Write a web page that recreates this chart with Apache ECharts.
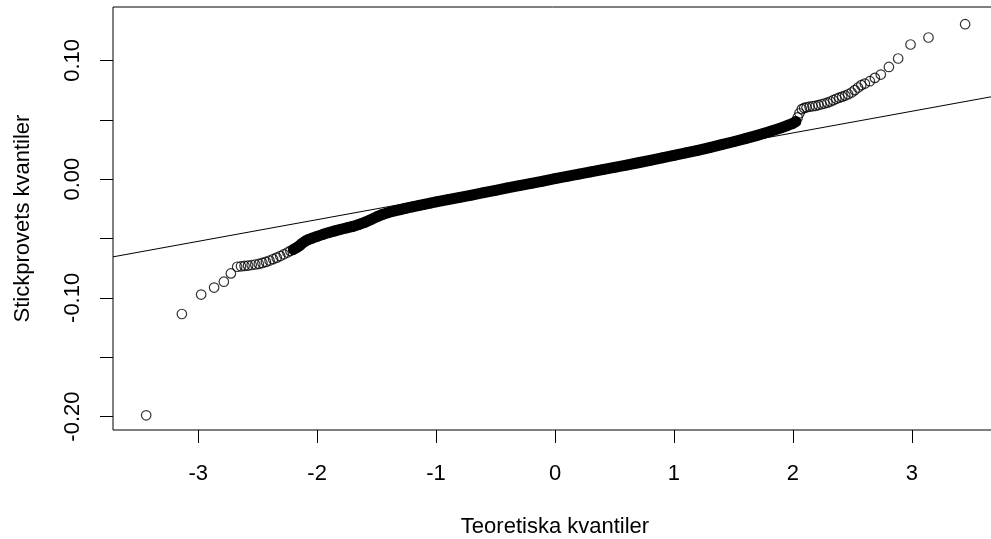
<!DOCTYPE html>
<html>
<head>
<meta charset="utf-8">
<script src="https://cdn.jsdelivr.net/npm/echarts@6/dist/echarts.min.js"></script>
<style>
  html, body { margin: 0; padding: 0; background: #fff; }
  #chart { width: 991px; height: 539px; }
</style>
</head>
<body>
<div id="chart"></div>
<script>
// Normal QQ plot: theoretical quantiles (x) against sample quantiles (y)
const theoretical = [
  -3.437, -3.137, -2.975, -2.866, -2.784, -2.725, -2.672, -2.640, -2.610, -2.580,
  -2.550, -2.520, -2.490, -2.460, -2.430, -2.400, -2.370, -2.340, -2.310, -2.280,
  -2.250, -2.225, -2.200, -2.175, -2.150, -2.125, -2.100, -2.075, -2.050, -2.000,
  -1.950, -1.900, -1.850, -1.800, -1.750, -1.700, -1.650, -1.600, -1.550, -1.500,
  -1.450, -1.400, -1.350, -1.300, -1.250, -1.200, -1.150, -1.100, -1.050, -1.000,
  -0.900, -0.800, -0.700, -0.600, -0.500, -0.400, -0.300, -0.200, -0.100, 0.000,
  0.100, 0.200, 0.300, 0.400, 0.500, 0.600, 0.700, 0.800, 0.900, 1.000,
  1.100, 1.200, 1.300, 1.400, 1.500, 1.600, 1.700, 1.800, 1.900, 1.950,
  2.000, 2.025, 2.040, 2.055, 2.075, 2.095, 2.115, 2.140, 2.165, 2.190,
  2.215, 2.240, 2.265, 2.290, 2.315, 2.340, 2.365, 2.390, 2.415, 2.440,
  2.465, 2.493, 2.520, 2.548, 2.575, 2.605, 2.647, 2.689, 2.739, 2.807,
  2.885, 2.989, 3.140, 3.448
];
const sample = [
  -0.1989, -0.1136, -0.0972, -0.0913, -0.0864, -0.0794, -0.0738, -0.0734, -0.0731, -0.0728,
  -0.0723, -0.0719, -0.0714, -0.0706, -0.0697, -0.0686, -0.0674, -0.0661, -0.0648, -0.0633,
  -0.0618, -0.0604, -0.0592, -0.0578, -0.0562, -0.0540, -0.0523, -0.0510, -0.0500, -0.0482,
  -0.0465, -0.0450, -0.0436, -0.0422, -0.0410, -0.0398, -0.0382, -0.0364, -0.0342, -0.0318,
  -0.0297, -0.0281, -0.0268, -0.0256, -0.0245, -0.0234, -0.0223, -0.0212, -0.0202, -0.0192,
  -0.0172, -0.0153, -0.0134, -0.0114, -0.0094, -0.0074, -0.0055, -0.0036, -0.0016, 0.0004,
  0.0023, 0.0042, 0.0061, 0.0080, 0.0099, 0.0118, 0.0138, 0.0158, 0.0179, 0.0200,
  0.0221, 0.0243, 0.0266, 0.0290, 0.0315, 0.0341, 0.0369, 0.0399, 0.0432, 0.0450,
  0.0470, 0.0485, 0.0520, 0.0555, 0.0590, 0.0600, 0.0605, 0.0610, 0.0614, 0.0618,
  0.0624, 0.0631, 0.0637, 0.0644, 0.0654, 0.0665, 0.0677, 0.0686, 0.0695, 0.0704,
  0.0715, 0.0730, 0.0750, 0.0772, 0.0792, 0.0805, 0.0825, 0.0853, 0.0881, 0.0945,
  0.1016, 0.1134, 0.1193, 0.1305
];

// Stretch of quantiles so closely packed that the circles merge into a solid band
const denseRange = [-2.2, 2.025];

// Reference line through the quartiles
const lineIntercept = 0.0024;
const lineSlope = 0.01826;

// Axis extents and ticks
const xRange = [-3.716, 3.716];
const yRange = [-0.2113, 0.145];
const xTicks = [-3, -2, -1, 0, 1, 2, 3];
const yTicks = [-0.2, -0.15, -0.1, -0.05, 0, 0.05, 0.1];
const yTickLabels = [-0.2, -0.1, 0, 0.1];

const points = theoretical.map((x, i) => [x, sample[i]]);
const densePoints = points.filter(p => p[0] >= denseRange[0] && p[0] <= denseRange[1]);
const refLine = xRange.map(x => [x, lineIntercept + lineSlope * x]);

const font = "'Liberation Sans', Arial, sans-serif";

const chart = echarts.init(document.getElementById('chart'), null, { renderer: 'canvas' });
chart.setOption({
  animation: false,
  backgroundColor: '#fff',
  grid: {
    left: 113, top: 7, width: 884, height: 423,
    outerBoundsMode: 'none',
    containLabel: false,
    show: true, borderColor: '#000', borderWidth: 1, backgroundColor: 'transparent'
  },
  xAxis: {
    type: 'value',
    min: xRange[0], max: xRange[1],
    name: 'Teoretiska kvantiler',
    nameLocation: 'middle',
    nameGap: 86,
    nameTextStyle: { fontFamily: font, fontSize: 22, color: '#000' },
    axisLine: { show: false, onZero: false },
    axisTick: { show: true, customValues: xTicks, length: 13, lineStyle: { color: '#000', width: 1 } },
    axisLabel: { customValues: xTicks, fontFamily: font, fontSize: 22, color: '#000', margin: 33 },
    splitLine: { show: false }
  },
  yAxis: {
    type: 'value',
    min: yRange[0], max: yRange[1],
    name: 'Stickprovets kvantiler',
    nameLocation: 'middle',
    nameGap: 79,
    nameTextStyle: { fontFamily: font, fontSize: 22, color: '#000' },
    axisLine: { show: false, onZero: false },
    axisTick: { show: true, customValues: yTicks, length: 13, lineStyle: { color: '#000', width: 1 } },
    axisLabel: {
      customValues: yTickLabels, rotate: 90, fontFamily: font, fontSize: 22, color: '#000', margin: 29,
      formatter: v => v.toFixed(2)
    },
    splitLine: { show: false }
  },
  series: [
    {
      type: 'line',
      data: densePoints,
      showSymbol: false,
      silent: true,
      z: 1,
      lineStyle: { color: '#000', width: 11, cap: 'round', join: 'round' }
    },
    {
      type: 'scatter',
      data: points,
      symbol: 'circle',
      symbolSize: 9.5,
      silent: true,
      z: 2,
      itemStyle: { color: 'rgba(0,0,0,0)', borderColor: '#000', borderWidth: 1.2 }
    },
    {
      type: 'line',
      data: refLine,
      showSymbol: false,
      silent: true,
      z: 3,
      lineStyle: { color: '#000', width: 1 }
    }
  ]
});
</script>
</body>
</html>
